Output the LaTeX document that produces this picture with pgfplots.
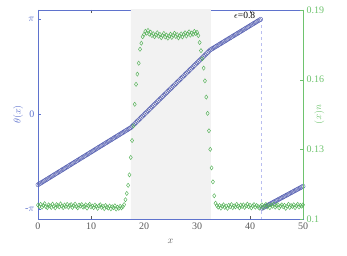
\documentclass[border=0pt]{standalone}
\usepackage{fontspec}
\setmainfont{Liberation Serif}
\usepackage{pgfplots}
\usepackage{pgfplotstable}
\pgfplotsset{compat=1.18}
\definecolor{bluem}{RGB}{88,98,178}
\definecolor{bluea}{RGB}{95,115,205}
\definecolor{greenm}{RGB}{85,178,88}
\definecolor{greena}{RGB}{110,195,110}
\definecolor{shade}{RGB}{242,242,242}
\definecolor{dashc}{RGB}{185,190,240}
\definecolor{axgray}{RGB}{90,90,90}

\pgfplotstableread{
x t
0 -0.744
0.25 -0.7354
0.5 -0.7268
0.75 -0.7182
1 -0.7096
1.25 -0.701
1.5 -0.6924
1.75 -0.6838
2 -0.6752
2.25 -0.6666
2.5 -0.658
2.75 -0.6494
3 -0.6408
3.25 -0.6322
3.5 -0.6236
3.75 -0.615
4 -0.6064
4.25 -0.5978
4.5 -0.5892
4.75 -0.5806
5 -0.572
5.25 -0.5634
5.5 -0.5548
5.75 -0.5462
6 -0.5376
6.25 -0.529
6.5 -0.5204
6.75 -0.5118
7 -0.5032
7.25 -0.4946
7.5 -0.486
7.75 -0.4774
8 -0.4688
8.25 -0.4602
8.5 -0.4516
8.75 -0.443
9 -0.4344
9.25 -0.4258
9.5 -0.4172
9.75 -0.4086
10 -0.4
10.25 -0.3914
10.5 -0.3828
10.75 -0.3742
11 -0.3656
11.25 -0.357
11.5 -0.3484
11.75 -0.3398
12 -0.3312
12.25 -0.3226
12.5 -0.314
12.75 -0.3054
13 -0.2968
13.25 -0.2882
13.5 -0.2796
13.75 -0.271
14 -0.2624
14.25 -0.2538
14.5 -0.2452
14.75 -0.2366
15 -0.228
15.25 -0.2194
15.5 -0.2108
15.75 -0.2022
16 -0.1936
16.25 -0.185
16.5 -0.1764
16.75 -0.1678
17 -0.1592
17.25 -0.1506
17.5 -0.142
17.75 -0.1284
18 -0.1147
18.25 -0.1011
18.5 -0.0874
18.75 -0.0738
19 -0.0601
19.25 -0.0465
19.5 -0.0328
19.75 -0.0192
20 -0.0055
20.25 0.0082
20.5 0.0218
20.75 0.0355
21 0.0491
21.25 0.0628
21.5 0.0764
21.75 0.0901
22 0.1037
22.25 0.1174
22.5 0.131
22.75 0.1447
23 0.1583
23.25 0.172
23.5 0.1856
23.75 0.1993
24 0.2129
24.25 0.2266
24.5 0.2402
24.75 0.2539
25 0.2675
25.25 0.2812
25.5 0.2948
25.75 0.3085
26 0.3221
26.25 0.3358
26.5 0.3494
26.75 0.3631
27 0.3767
27.25 0.3904
27.5 0.404
27.75 0.4177
28 0.4313
28.25 0.445
28.5 0.4586
28.75 0.4723
29 0.4859
29.25 0.4996
29.5 0.5132
29.75 0.5269
30 0.5405
30.25 0.5542
30.5 0.5678
30.75 0.5815
31 0.5951
31.25 0.6088
31.5 0.6224
31.75 0.6361
32 0.6497
32.25 0.6634
32.5 0.677
32.75 0.6855
33 0.694
33.25 0.7025
33.5 0.711
33.75 0.7195
34 0.728
34.25 0.7365
34.5 0.745
34.75 0.7535
35 0.762
35.25 0.7705
35.5 0.779
35.75 0.7875
36 0.796
36.25 0.8045
36.5 0.813
36.75 0.8215
37 0.830
37.25 0.8385
37.5 0.847
37.75 0.8555
38 0.864
38.25 0.8725
38.5 0.881
38.75 0.8895
39 0.898
39.25 0.9065
39.5 0.915
39.75 0.9235
40 0.932
40.25 0.9405
40.5 0.949
40.75 0.9575
41 0.966
41.25 0.9745
41.5 0.983
41.75 0.9915
42 1.0
42.25 -0.993
42.5 -0.9855
42.75 -0.978
43 -0.9705
43.25 -0.963
43.5 -0.9555
43.75 -0.948
44 -0.9405
44.25 -0.933
44.5 -0.9255
44.75 -0.918
45 -0.9105
45.25 -0.903
45.5 -0.8955
45.75 -0.888
46 -0.8805
46.25 -0.873
46.5 -0.8655
46.75 -0.858
47 -0.8505
47.25 -0.843
47.5 -0.8355
47.75 -0.828
48 -0.8205
48.25 -0.813
48.5 -0.8055
48.75 -0.798
49 -0.7905
49.25 -0.783
49.5 -0.7755
49.75 -0.768
50 -0.7605
}\thetatab

\pgfplotstableread{
x u
0 0.1060
0.25 0.1054
0.5 0.1063
0.75 0.1051
1 0.1059
1.25 0.1066
1.5 0.1053
1.75 0.1049
2 0.1061
2.25 0.1057
2.5 0.1050
2.75 0.1064
3 0.1055
3.25 0.1048
3.5 0.1062
3.75 0.1058
4 0.1052
4.25 0.1065
4.5 0.1056
4.75 0.1049
5 0.1060
5.25 0.1054
5.5 0.1063
5.75 0.1051
6 0.1058
6.25 0.1062
6.5 0.1050
6.75 0.1057
7 0.1064
7.25 0.1053
7.5 0.1048
7.75 0.1060
8 0.1056
8.25 0.1062
8.5 0.1051
8.75 0.1055
9 0.1061
9.25 0.1047
9.5 0.1058
9.75 0.1063
10 0.1052
10.25 0.1056
10.5 0.1049
10.75 0.1060
11 0.1054
11.25 0.1046
11.5 0.1057
11.75 0.1061
12 0.1050
12.25 0.1055
12.5 0.1045
12.75 0.1058
13 0.1052
13.25 0.1047
13.5 0.1056
13.75 0.1044
14 0.1053
14.25 0.1049
14.5 0.1057
14.75 0.1043
15 0.1051
15.25 0.1046
15.5 0.1055
15.75 0.1048
16 0.1053
16.25 0.1062
16.5 0.1083
16.75 0.1110
17 0.1145
17.25 0.1190
17.5 0.1265
17.75 0.1338
18 0.1401
18.25 0.1494
18.5 0.1580
18.75 0.1624
19 0.1671
19.25 0.1731
19.5 0.1757
19.75 0.1785
20 0.1795
20.25 0.1808
20.5 0.1800
20.75 0.1812
21 0.1796
21.25 0.1805
21.5 0.1790
21.75 0.1798
22 0.1785
22.25 0.1793
22.5 0.1802
22.75 0.1787
23 0.1795
23.25 0.1781
23.5 0.1790
23.75 0.1799
24 0.1784
24.25 0.1792
24.5 0.1779
24.75 0.1788
25 0.1796
25.25 0.1782
25.5 0.1791
25.75 0.1800
26 0.1786
26.25 0.1794
26.5 0.1780
26.75 0.1789
27 0.1797
27.25 0.1784
27.5 0.1795
27.75 0.1802
28 0.1788
28.25 0.1797
28.5 0.1806
28.75 0.1792
29 0.1801
29.25 0.1795
29.5 0.1808
29.75 0.1799
30 0.1804
30.25 0.1790
30.5 0.1760
30.75 0.1725
31 0.1690
31.25 0.1650
31.5 0.1595
31.75 0.1525
32 0.1455
32.25 0.1380
32.5 0.1300
32.75 0.1220
33 0.1160
33.25 0.1100
33.5 0.1068
33.75 0.1058
34 0.1051
34.25 0.1058
34.5 0.1047
34.75 0.1055
35 0.1061
35.25 0.1050
35.5 0.1056
35.75 0.1046
36 0.1059
36.25 0.1053
36.5 0.1062
36.75 0.1049
37 0.1057
37.25 0.1052
37.5 0.1063
37.75 0.1055
38 0.1048
38.25 0.1060
38.5 0.1054
38.75 0.1061
39 0.1050
39.25 0.1057
39.5 0.1064
39.75 0.1053
40 0.1059
40.25 0.1048
40.5 0.1056
40.75 0.1062
41 0.1051
41.25 0.1058
41.5 0.1054
41.75 0.1047
42 0.1055
42.25 0.1061
42.5 0.1050
42.75 0.1057
43 0.1063
43.25 0.1052
43.5 0.1058
43.75 0.1049
44 0.1060
44.25 0.1055
44.5 0.1064
44.75 0.1051
45 0.1057
45.25 0.1062
45.5 0.1048
45.75 0.1056
46 0.1061
46.25 0.1053
46.5 0.1059
46.75 0.1046
47 0.1055
47.25 0.1063
47.5 0.1050
47.75 0.1058
48 0.1054
48.25 0.1061
48.5 0.1049
48.75 0.1057
49 0.1063
49.25 0.1052
49.5 0.1059
49.75 0.1055
50 0.1061
}\utab

\begin{document}
\begin{tikzpicture}[x=1pt,y=1pt]
\useasboundingbox (-38,-37) rectangle (309,219);
\begin{axis}[
  at={(0,0)}, anchor=south west,
  width=265pt, height=209pt, scale only axis,
  xmin=0, xmax=50, ymin=-1.105, ymax=1.098,
  xtick={0,10,20,30,40,50},
  ytick={-1,0,1},
  yticklabels={-$\pi$,0,$\pi$},
  ytick pos=left, xtick pos=both,
  tick align=inside,
  major tick length=3pt,
  x axis line style={axgray, line width=0.6pt},
  y axis line style={bluea, line width=0.6pt},
  xtick style={axgray},
  ytick style={bluea},
  font=\fontsize{10}{12}\selectfont,
  xticklabel style={text=axgray},
  yticklabel style={text=bluea},
  /pgf/number format/assume math mode=true,
  xlabel={$x$},
  xlabel style={text=axgray, at={(axis description cs:0.5,-0.105)}, anchor=center},
  ylabel={$\theta(x)$},
  ylabel style={text=bluea, at={(axis description cs:-0.075,0.5)}, anchor=center},
  clip=true,
]
\addplot[fill=shade, draw=none] coordinates {(17.5,-1.2) (32.6,-1.2) (32.6,1.2) (17.5,1.2)} \closedcycle;
\addplot[dashc, dashed, line width=0.6pt] coordinates {(42.15,1.0) (42.15,-1.2)};
\addplot[only marks, mark=o, mark size=2.1pt, mark options={draw=bluem, line width=0.45pt}] table[x=x, y=t] {\thetatab};
\node[font=\fontsize{9.5}{10}\selectfont, anchor=center] at (axis cs:39.0,1.04) {$\epsilon$=0.8};
\end{axis}
\begin{axis}[
  at={(0,0)}, anchor=south west,
  width=265pt, height=209pt, scale only axis,
  xmin=0, xmax=50, ymin=0.1, ymax=0.19,
  axis x line=none,
  axis y line*=right,
  ytick={0.1,0.13,0.16,0.19},
  yticklabels={0.1,0.13,0.16,0.19},
  tick align=inside,
  major tick length=3pt,
  y axis line style={greena, line width=0.6pt, -},
  ytick style={greena},
  font=\fontsize{10}{12}\selectfont,
  yticklabel style={text=greena},
  ylabel={$u(x)$},
  ylabel style={text=greena, at={(axis description cs:1.062,0.5)}, anchor=center, rotate=180},
]
\addplot[only marks, mark=diamond, mark size=2.1pt, mark options={draw=greenm, line width=0.45pt, fill=none}] table[x=x, y=u] {\utab};
\end{axis}
\end{tikzpicture}
\end{document}
